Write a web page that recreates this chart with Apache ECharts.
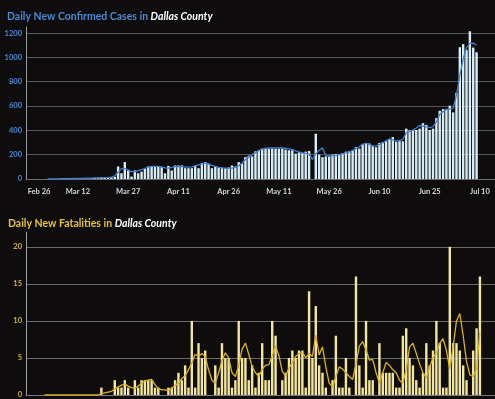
<!DOCTYPE html>
<html>
<head>
<meta charset="utf-8">
<script src="https://cdn.jsdelivr.net/npm/echarts@6/dist/echarts.min.js"></script>
<style>
  html, body { margin: 0; padding: 0; background: #0e0c0d; }
  #chart { width: 495px; height: 399px; }
</style>
</head>
<body>
<div id="chart"></div>
<script>
// x axis: one category per day
const axisStart = [2020, 1, 26]
const axisDays = 140
const months = ['Jan', 'Feb', 'Mar', 'Apr', 'May', 'Jun', 'Jul', 'Aug', 'Sep', 'Oct', 'Nov', 'Dec']
const tickLabels = ['Feb 26', 'Mar 12', 'Mar 27', 'Apr 11', 'Apr 26', 'May 11', 'May 26', 'Jun 10', 'Jun 25', 'Jul 10']

// daily new confirmed cases, first value is Mar 3
const casesStart = 'Mar 3'
const cases = [
  1, 0, 1, 0, 2, 1, 3, 2, 4, 3, 5, 6, 4, 7, 8, 9, 10, 12, 11, 14, 18,
  103, 47, 139, 70, 20, 70, 47, 61, 83, 103, 103, 103, 103, 97, 47, 108, 70, 111, 111,
  111, 89, 89, 89, 111, 89, 130, 139, 125, 89, 103, 94, 94, 89, 94, 111, 103, 139, 125,
  180, 192, 186, 228, 236, 250, 250, 250, 250, 250, 250, 250, 242, 236, 236, 208, 220, 214, 225, 231,
  0, 372, 200, 180, 186, 192, 200, 206, 206, 214, 225, 228, 236, 261, 250, 289, 297, 292, 270, 261,
  297, 303, 311, 325, 345, 306, 311, 311, 414, 400, 403, 403, 414, 459, 445, 403, 414, 500, 561, 575,
  575, 603, 548, 709, 1084, 1109, 1062, 1215, 1081, 1042,
]
// blue average line of the cases
const casesAvg = [
  1, 1, 1, 1, 2, 2, 3, 3, 4, 4, 5, 6, 7, 8, 9, 10, 11, 12, 13, 15,
  25, 55, 85, 85, 75, 60, 58, 68, 78, 88, 97, 103, 104, 104, 100, 92, 90, 95, 102, 104,
  102, 98, 97, 100, 108, 117, 125, 130, 125, 112, 103, 96, 92, 90, 89, 90, 95, 110, 130,
  160, 180, 200, 215, 235, 245, 252, 255, 255, 256, 256, 255, 252, 248, 242, 232, 222, 215, 210, 205,
  160, 208, 235, 256, 192, 186, 190, 195, 200, 207, 214, 222, 235, 250, 265, 285, 292, 285, 272, 270,
  285, 297, 315, 330, 322, 312, 318, 325, 380, 392, 402, 420, 440, 436, 428, 422, 430, 470, 530, 555,
  573, 576, 580, 690, 850, 990, 1080, 1115, 1118, 1100,
]

// daily new fatalities, first value is Mar 2
const deathsStart = 'Mar 2'
const deaths = [
  0, 0, 0, 0, 0, 0, 0, 0, 0, 0, 0, 0, 0, 0, 0, 0, 0,
  1, 0, 0, 0, 2, 1, 1, 2,
  1, 0, 2, 1, 2, 2, 2, 2, 1, 1,
  0, 0, 1, 1, 2, 3, 2, 4, 1, 10,
  1, 7, 5, 6, 0, 0, 4, 1, 7, 5,
  5, 1, 2, 10, 5, 5, 2, 4, 1, 3,
  7, 2, 2, 10, 8, 0, 2, 3, 5, 6,
  5, 6, 6, 1, 14, 5, 12, 4, 3, 1,
  0, 2, 8, 1, 1, 5, 1, 0, 16, 4,
  1, 10, 2, 2, 0, 7, 3, 3, 3, 3,
  1, 1, 8, 9, 5, 4, 2, 1, 3, 7,
  4, 6, 10, 7, 1, 1, 20, 7, 7, 6,
  4, 2, 0, 6, 9, 16,
]
// yellow average line of the fatalities
const deathsAvg = [
  0, 0, 0, 0, 0, 0, 0, 0, 0, 0, 0, 0, 0, 0, 0, 0, 0,
  0.2, 0.3, 0.4, 0.5, 0.8, 1.1, 1.3, 1.5,
  1.2, 1, 0.9, 1.2, 1.6, 1.9, 2, 2.1, 1.4, 0.9,
  0.7, 0.7, 0.6, 0.9, 1.3, 1.6, 2.2, 2.6, 3.4, 4.3,
  5.5, 5.2, 5.6, 5.2, 3.4, 2, 1.6, 3, 4.6, 5.7,
  5, 3, 2.5, 4, 6.2, 7, 5.5, 3.8, 3, 2.5,
  3.5, 4, 4.1, 5.3, 6.6, 5.3, 3.2, 2.6, 3.6, 4.4,
  5.2, 5.6, 5.8, 5, 5.6, 5.2, 8.1, 5.4, 6.5, 3.8,
  1.6, 1.1, 2.5, 3.8, 3.5, 3, 2.5, 2.1, 4.2, 6.6,
  7.2, 6.1, 4.7, 4.8, 3, 1.6, 3, 4.4, 4, 3.4,
  3, 2, 1.6, 3.5, 6.5, 7, 5.6, 4.2, 3, 2.3,
  3.8, 5, 5.7, 7, 7.6, 6, 3.5, 6.5, 10, 11,
  8, 4.5, 2.7, 2.5, 3.5, 8.5,
]

const days = []
for (let i = 0; i < axisDays; i++) {
  const d = new Date(Date.UTC(axisStart[0], axisStart[1], axisStart[2] + i))
  days.push(months[d.getUTCMonth()] + ' ' + d.getUTCDate())
}
// put a series on the day axis
function pad(values, start) {
  return Array(days.indexOf(start)).fill('-').concat(values)
}
const onTick = (idx, val) => tickLabels.indexOf(val) !== -1

const topGrid = '#555555'
const bottomGrid = '#6b6b6b'
const font = 'Lato, "Open Sans", sans-serif'

const option = {
  backgroundColor: '#0e0c0d',
  animation: false,
  title: [
    {
      text: '{a|Daily New Confirmed Cases in }{b|Dallas County}',
      left: 2,
      top: 6,
      textStyle: {
        rich: {
          a: { color: '#4a8ad6', fontSize: 10.5, fontFamily: font },
          b: { color: '#ffffff', fontSize: 10.5, fontFamily: font, fontWeight: 'bold', fontStyle: 'italic' },
        },
      },
    },
    {
      text: '{a|Daily New Fatalities in }{b|Dallas County}',
      left: 3,
      top: 213,
      textStyle: {
        rich: {
          a: { color: '#e5c13c', fontSize: 10.5, fontFamily: font },
          b: { color: '#ffffff', fontSize: 10.5, fontFamily: font, fontWeight: 'bold', fontStyle: 'italic' },
        },
      },
    },
  ],
  grid: [
    { left: 26, right: 0, top: 27, height: 152 },
    { left: 26, right: 0, top: 232, height: 165.5 },
  ],
  xAxis: [
    {
      type: 'category',
      gridIndex: 0,
      data: days,
      axisLine: { lineStyle: { color: '#6c6c6c' } },
      axisTick: { interval: onTick, length: 3, lineStyle: { color: '#9a9a9a' } },
      axisLabel: {
        interval: onTick,
        alignMinLabel: 'left',
        color: '#d8d8d8',
        fontSize: 7.5,
        fontWeight: 'bold',
        fontFamily: font,
        margin: 9,
      },
    },
    {
      type: 'category',
      gridIndex: 1,
      data: days,
      axisLine: { lineStyle: { color: '#777777' } },
      axisTick: { show: false },
      axisLabel: { show: false },
    },
  ],
  yAxis: [
    {
      type: 'value',
      gridIndex: 0,
      min: 0,
      max: 1250,
      interval: 200,
      axisLine: { show: true, lineStyle: { color: '#9c9c9c' } },
      axisTick: { show: false },
      axisLabel: {
        showMaxLabel: false,
        formatter: (v) => String(v),
        color: '#4a8ad6',
        fontSize: 7.5,
        fontWeight: 'bold',
        fontFamily: font,
        margin: 4,
      },
      splitLine: {
        lineStyle: { color: [topGrid, topGrid, topGrid, topGrid, topGrid, topGrid, topGrid, 'transparent'] },
      },
    },
    {
      type: 'value',
      gridIndex: 1,
      min: 0,
      max: 22,
      interval: 5,
      axisLine: { show: true, lineStyle: { color: '#a0a0a0' } },
      axisTick: { show: false },
      axisLabel: {
        showMaxLabel: false,
        color: '#d9b43a',
        fontSize: 7.5,
        fontWeight: 'bold',
        fontFamily: font,
        margin: 4,
      },
      splitLine: {
        lineStyle: { color: [bottomGrid, bottomGrid, bottomGrid, bottomGrid, bottomGrid, 'transparent'] },
      },
    },
  ],
  series: [
    {
      name: 'New cases',
      type: 'bar',
      xAxisIndex: 0,
      yAxisIndex: 0,
      barWidth: '72%',
      itemStyle: { color: '#d7edf5' },
      data: pad(cases, casesStart),
    },
    {
      name: 'Cases average',
      type: 'line',
      xAxisIndex: 0,
      yAxisIndex: 0,
      showSymbol: false,
      lineStyle: { color: '#3f80d2', width: 1.3 },
      data: pad(casesAvg, casesStart),
    },
    {
      name: 'New fatalities',
      type: 'bar',
      xAxisIndex: 1,
      yAxisIndex: 1,
      barWidth: '72%',
      itemStyle: { color: '#f2e59e' },
      data: pad(deaths, deathsStart),
    },
    {
      name: 'Fatalities average',
      type: 'line',
      xAxisIndex: 1,
      yAxisIndex: 1,
      showSymbol: false,
      lineStyle: { color: '#dcb21e', width: 1.3 },
      data: pad(deathsAvg, deathsStart),
    },
  ],
}

const myChart = echarts.init(document.getElementById('chart'))
myChart.setOption(option)
</script>
</body>
</html>
